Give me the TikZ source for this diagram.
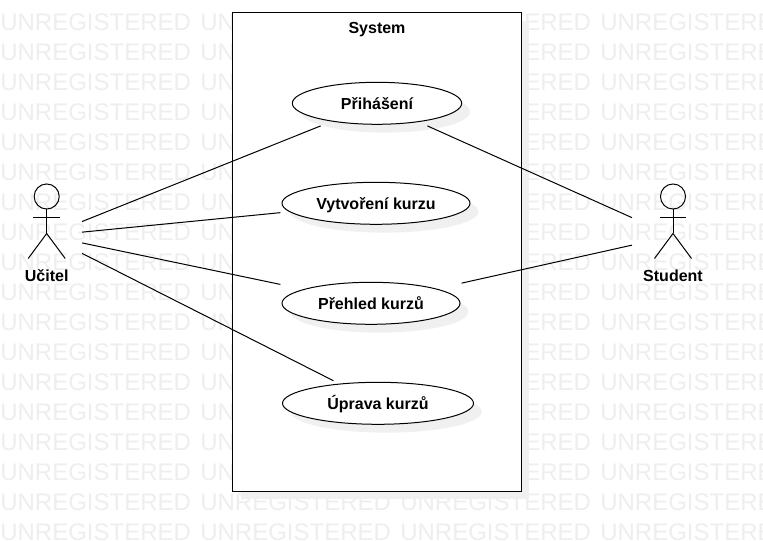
\documentclass[tikz,border=0pt]{standalone}
\usepackage{fontspec}
\setmainfont{Liberation Sans}
\usetikzlibrary{shapes.geometric,shadows,fit}
\definecolor{wmarkgray}{HTML}{EEEEEE}
\definecolor{shadowgray}{HTML}{F0F0F0}
\tikzset{
    softshadow/.style={general shadow={fill=shadowgray, shadow xshift=6.25pt, shadow yshift=-6.25pt}},
    wmark/.style={anchor=west, inner sep=0pt, text=wmarkgray, font=\fontsize{18}{18}\selectfont},
    usecase/.style={ellipse, draw, line width=0.75pt, fill=white, softshadow, inner sep=0pt, outer sep=0pt,
            minimum height=31.5pt, text height=10pt, text depth=1.3pt, font=\bfseries\fontsize{12}{14}\selectfont},
    usebox/.style={rectangle, inner sep=1.2pt, outer sep=0pt},
    actorbox/.style={rectangle, inner sep=0pt, outer sep=0pt, minimum width=52.5pt, minimum height=78pt},
    boldlabel/.style={inner sep=0pt, text height=10pt, text depth=1.3pt, font=\bfseries\fontsize{12}{14}\selectfont},
    assoc/.style={line width=0.75pt}
}
\begin{document}
\begin{tikzpicture}[x=0.75pt, y=-0.75pt]
    \useasboundingbox (0,0) rectangle (763,541);
    \clip (0,0) rectangle (763,541);

    % vodoznak
    \foreach \r in {22,52,...,532} {
            \foreach \c in {0,200,400,600} {
                    \node[wmark] (wm-\r-\c) at (\c,\r) {UNREGISTERED};
                }
        }

    % hranice systemu
    \node[rectangle, draw, line width=0.75pt, fill=white, softshadow, inner sep=0pt,
        minimum width=216.4pt, minimum height=358.9pt] (system) at (376.75,251.75) {};
    \node[boldlabel] (systemlabel) at (377,27.5) {System};

    % pripady uziti
    \foreach \n/\t/\cx/\cy/\w in {prihaseni/Přihášení/377/103.3/127,
            vytvoreni/Vytvoření kurzu/376/203.3/141,
            prehled/Přehled kurzů/371/303.3/133.5,
            uprava/Úprava kurzů/378/403.3/143.25} {
            \node[usecase, minimum width=\w pt] (\n) at (\cx,\cy) {\t};
            \node[usebox, fit=(\n)] (\n box) {};
        }

    % aktori
    \foreach \cx in {46.7,673} {
            \draw[line width=0.75pt] (\cx,196.5) circle (9.4pt);
            \draw[line width=0.75pt] (\cx,209) -- (\cx,233.5);
            \draw[line width=0.75pt] (\cx-13.3,218) -- (\cx+13.3,218);
            \draw[line width=0.75pt] (\cx-18.5,258.5) -- (\cx,233.5) -- (\cx+18.5,258.5);
        }
    \node[actorbox] (ucitel) at (47,235.6) {};
    \node[actorbox, minimum width=61.5pt] (student) at (673,236) {};
    \node[boldlabel] (ucitellabel) at (46.7,276) {Učitel};
    \node[boldlabel] (studentlabel) at (673,276) {Student};

    % asociace
    \foreach \a/\b in {ucitel/prihaseni, ucitel/vytvoreni, ucitel/prehled, ucitel/uprava,
            student/prihaseni, student/prehled} {
            \draw[assoc] (\a) -- (\b box);
        }
\end{tikzpicture}
\end{document}
